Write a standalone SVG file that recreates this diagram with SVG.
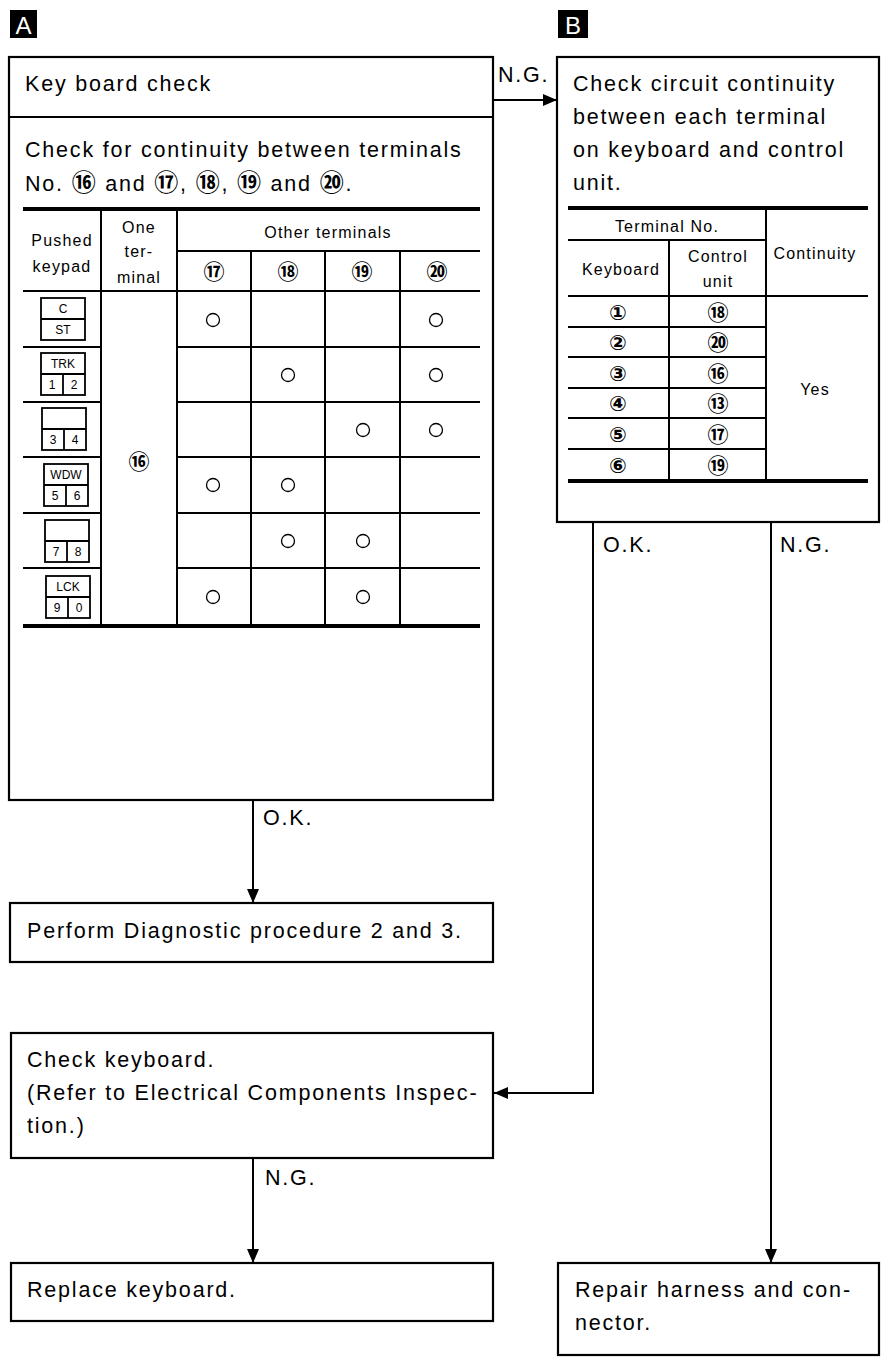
<svg xmlns="http://www.w3.org/2000/svg" width="896" height="1366" viewBox="0 0 896 1366">
<style>
.box{fill:#fff;stroke:#000;stroke-width:2.2}
.t{font-family:"Liberation Sans",Arial,sans-serif;font-size:21.5px;letter-spacing:1.8px;fill:#000}
.s{font-family:"Liberation Sans",Arial,sans-serif;font-size:16px;letter-spacing:1.2px;fill:#000;text-anchor:middle}
.k{font-family:"Liberation Sans",Arial,sans-serif;font-size:12px;fill:#000;text-anchor:middle}
.c{font-family:"DejaVu Sans","Noto Sans CJK JP",sans-serif;font-size:21px;font-weight:bold;fill:#000;text-anchor:middle}
.g{stroke:#000;stroke-width:2;fill:none}
.th{stroke:#000;stroke-width:4;fill:none}
.o{fill:none;stroke:#000;stroke-width:1.3}
.ln{stroke:#000;stroke-width:2;fill:none}
.lab{fill:#fff;font-family:"Liberation Sans",Arial,sans-serif;font-size:24px}
</style>
<defs>
<marker id="ah" viewBox="0 0 14 12" refX="14" refY="6" markerWidth="14" markerHeight="12" markerUnits="userSpaceOnUse" orient="auto">
<path d="M0,0 L14,6 L0,12 z" fill="#000"/>
</marker>
<g id="kp">
<rect x="0" y="0" width="44" height="42" fill="#fff" stroke="#000" stroke-width="1.8"/>
<line x1="0" y1="21" x2="44" y2="21" stroke="#000" stroke-width="1.8"/>
</g>
</defs>
<rect width="896" height="1366" fill="#fff"/>

<g id="labelA">
<rect x="10" y="10" width="27" height="28" fill="#000"/>
<text class="lab" x="23.5" y="34" text-anchor="middle">A</text>
</g>
<g id="labelB">
<rect x="558" y="10" width="30" height="28" fill="#000"/>
<text class="lab" x="573" y="34" text-anchor="middle">B</text>
</g>

<g id="nodeA">
<rect class="box" x="9" y="57" width="484" height="743"/>
<line class="ln" x1="9" y1="117" x2="493" y2="117"/>
<text class="t" x="25" y="91">Key board check</text>
<text class="t" x="25" y="157">Check for continuity between terminals</text>
<text class="t" x="25" y="191">No. <tspan class="c" style="font-size:24px">⑯</tspan> and <tspan class="c" style="font-size:24px">⑰</tspan>, <tspan class="c" style="font-size:24px">⑱</tspan>, <tspan class="c" style="font-size:24px">⑲</tspan> and <tspan class="c" style="font-size:24px">⑳</tspan>.</text>
<!-- table A -->
<line class="th" x1="23" y1="209" x2="480" y2="209"/>
<line class="th" x1="23" y1="626" x2="480" y2="626"/>
<line class="g" x1="101" y1="209" x2="101" y2="626"/>
<line class="g" x1="177" y1="209" x2="177" y2="626"/>
<line class="g" x1="251" y1="251" x2="251" y2="626"/>
<line class="g" x1="325" y1="251" x2="325" y2="626"/>
<line class="g" x1="400" y1="251" x2="400" y2="626"/>
<line class="g" x1="177" y1="251" x2="480" y2="251"/>
<line class="g" x1="23" y1="291" x2="480" y2="291"/>
<line class="g" x1="23" y1="347" x2="101" y2="347"/>
<line class="g" x1="177" y1="347" x2="480" y2="347"/>
<line class="g" x1="23" y1="402" x2="101" y2="402"/>
<line class="g" x1="177" y1="402" x2="480" y2="402"/>
<line class="g" x1="23" y1="457" x2="101" y2="457"/>
<line class="g" x1="177" y1="457" x2="480" y2="457"/>
<line class="g" x1="23" y1="513" x2="101" y2="513"/>
<line class="g" x1="177" y1="513" x2="480" y2="513"/>
<line class="g" x1="23" y1="568" x2="101" y2="568"/>
<line class="g" x1="177" y1="568" x2="480" y2="568"/>
<text class="s" x="62" y="246">Pushed</text>
<text class="s" x="62" y="272">keypad</text>
<text class="s" x="139" y="233">One</text>
<text class="s" x="139" y="257">ter-</text>
<text class="s" x="139" y="283">minal</text>
<text class="s" x="328" y="238">Other terminals</text>
<text class="c" x="214" y="279">⑰</text>
<text class="c" x="288" y="279">⑱</text>
<text class="c" x="362" y="279">⑲</text>
<text class="c" x="437" y="279">⑳</text>
<text class="c" x="139" y="469">⑯</text>
<!-- circles -->
<circle class="o" cx="213" cy="320" r="6.5"/><circle class="o" cx="436" cy="320" r="6.5"/>
<circle class="o" cx="288" cy="375" r="6.5"/><circle class="o" cx="436" cy="375" r="6.5"/>
<circle class="o" cx="363" cy="430" r="6.5"/><circle class="o" cx="436" cy="430" r="6.5"/>
<circle class="o" cx="213" cy="485" r="6.5"/><circle class="o" cx="288" cy="485" r="6.5"/>
<circle class="o" cx="288" cy="541" r="6.5"/><circle class="o" cx="363" cy="541" r="6.5"/>
<circle class="o" cx="213" cy="597" r="6.5"/><circle class="o" cx="363" cy="597" r="6.5"/>
<!-- keypad icons -->
<g transform="translate(41,298)"><use href="#kp"/><text class="k" x="22" y="15">C</text><text class="k" x="22" y="36">ST</text></g>
<g transform="translate(41,353)"><use href="#kp"/><line x1="22" y1="21" x2="22" y2="42" stroke="#000" stroke-width="1.8"/><text class="k" x="22" y="15">TRK</text><text class="k" x="11" y="36">1</text><text class="k" x="33" y="36">2</text></g>
<g transform="translate(42,408)"><use href="#kp"/><line x1="22" y1="21" x2="22" y2="42" stroke="#000" stroke-width="1.8"/><text class="k" x="11" y="36">3</text><text class="k" x="33" y="36">4</text></g>
<g transform="translate(44,464)"><use href="#kp"/><line x1="22" y1="21" x2="22" y2="42" stroke="#000" stroke-width="1.8"/><text class="k" x="22" y="15">WDW</text><text class="k" x="11" y="36">5</text><text class="k" x="33" y="36">6</text></g>
<g transform="translate(45,520)"><use href="#kp"/><line x1="22" y1="21" x2="22" y2="42" stroke="#000" stroke-width="1.8"/><text class="k" x="11" y="36">7</text><text class="k" x="33" y="36">8</text></g>
<g transform="translate(46,576)"><use href="#kp"/><line x1="22" y1="21" x2="22" y2="42" stroke="#000" stroke-width="1.8"/><text class="k" x="22" y="15">LCK</text><text class="k" x="11" y="36">9</text><text class="k" x="33" y="36">0</text></g>
</g>

<g id="nodeB">
<rect class="box" x="557" y="57" width="322" height="465"/>
<text class="t" x="573" y="91">Check circuit continuity</text>
<text class="t" x="573" y="124">between each terminal</text>
<text class="t" x="573" y="157">on keyboard and control</text>
<text class="t" x="573" y="190">unit.</text>
<line class="th" x1="568" y1="208" x2="868" y2="208"/>
<line class="th" x1="568" y1="481" x2="868" y2="481"/>
<line class="g" x1="766" y1="208" x2="766" y2="481"/>
<line class="g" x1="669" y1="240" x2="669" y2="481"/>
<line class="g" x1="568" y1="240" x2="766" y2="240"/>
<line class="g" x1="568" y1="296" x2="868" y2="296"/>
<line class="g" x1="568" y1="327" x2="766" y2="327"/>
<line class="g" x1="568" y1="357" x2="766" y2="357"/>
<line class="g" x1="568" y1="388" x2="766" y2="388" stroke-width="2.6"/>
<line class="g" x1="568" y1="418" x2="766" y2="418"/>
<line class="g" x1="568" y1="449" x2="766" y2="449"/>
<text class="s" x="667" y="232">Terminal No.</text>
<text class="s" x="621" y="275">Keyboard</text>
<text class="s" x="718" y="262">Control</text>
<text class="s" x="718" y="287">unit</text>
<text class="s" x="815" y="259">Continuity</text>
<text class="s" x="815" y="395">Yes</text>
<text class="c" x="618" y="320">①</text><text class="c" x="718" y="320">⑱</text>
<text class="c" x="618" y="350">②</text><text class="c" x="718" y="350">⑳</text>
<text class="c" x="618" y="381">③</text><text class="c" x="718" y="381">⑯</text>
<text class="c" x="618" y="411">④</text><text class="c" x="718" y="411">⑬</text>
<text class="c" x="618" y="442">⑤</text><text class="c" x="718" y="442">⑰</text>
<text class="c" x="618" y="473">⑥</text><text class="c" x="718" y="473">⑲</text>
</g>

<g id="nodePerform">
<rect class="box" x="10" y="903" width="483" height="59"/>
<text class="t" x="27" y="938">Perform Diagnostic procedure 2 and 3.</text>
</g>

<g id="nodeCheckKb">
<rect class="box" x="11" y="1033" width="482" height="125"/>
<text class="t" x="27" y="1067">Check keyboard.</text>
<text class="t" x="27" y="1100">(Refer to Electrical Components Inspec-</text>
<text class="t" x="27" y="1133">tion.)</text>
</g>

<g id="nodeReplace">
<rect class="box" x="11" y="1263" width="482" height="58"/>
<text class="t" x="27" y="1297">Replace keyboard.</text>
</g>

<g id="nodeRepair">
<rect class="box" x="558" y="1263" width="321" height="92"/>
<text class="t" x="575" y="1297">Repair harness and con-</text>
<text class="t" x="575" y="1330">nector.</text>
</g>

<g id="connectors">
<line class="ln" x1="493" y1="100" x2="557" y2="100" marker-end="url(#ah)"/>
<text class="t" x="498" y="82">N.G.</text>
<line class="ln" x1="253" y1="800" x2="253" y2="903" marker-end="url(#ah)"/>
<text class="t" x="263" y="825">O.K.</text>
<polyline class="ln" points="593,522 593,1093 494,1093" marker-end="url(#ah)"/>
<text class="t" x="603" y="552">O.K.</text>
<line class="ln" x1="771" y1="522" x2="771" y2="1263" marker-end="url(#ah)"/>
<text class="t" x="780" y="552">N.G.</text>
<line class="ln" x1="253" y1="1158" x2="253" y2="1263" marker-end="url(#ah)"/>
<text class="t" x="265" y="1185">N.G.</text>
</g>
</svg>
